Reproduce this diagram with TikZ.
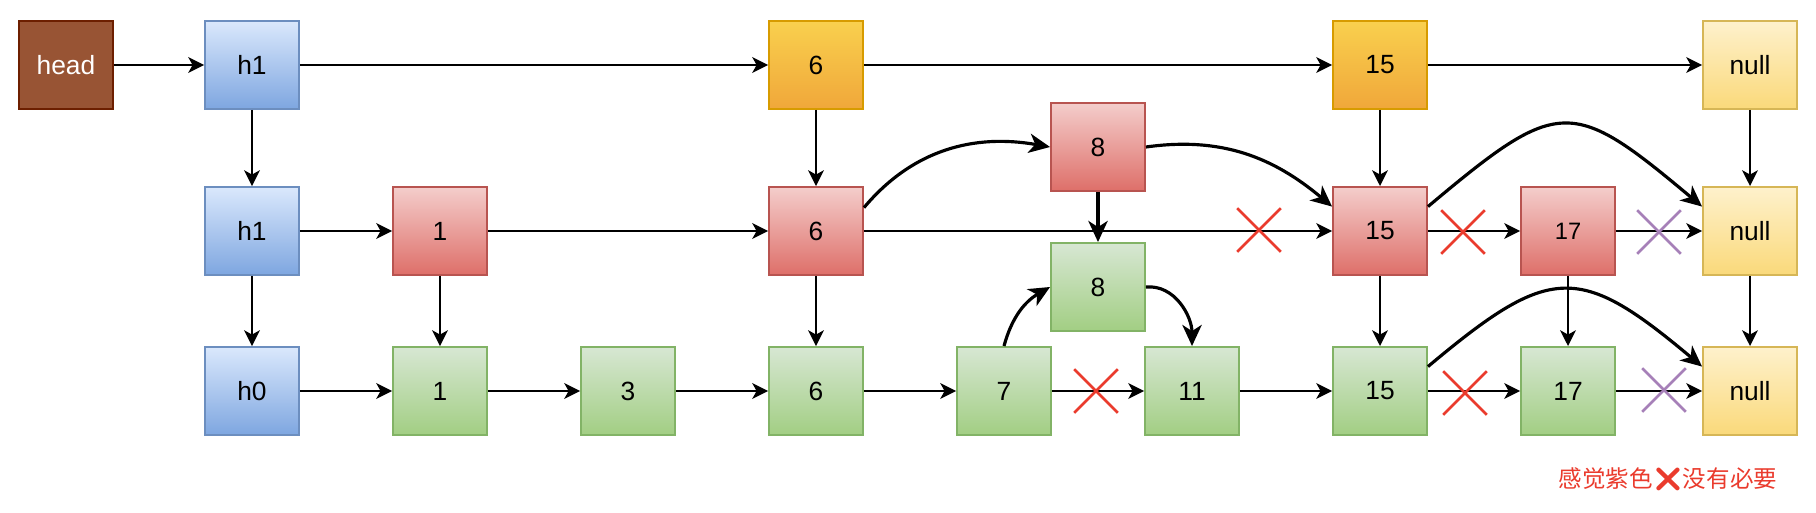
\documentclass[tikz,border=0pt]{standalone}
\usepackage{fontspec}
\setmainfont{Liberation Sans}
\newfontfamily\cjk{Noto Sans CJK SC}
\newfontfamily\emoji{Noto Emoji}
\usepackage{tikz}
\usetikzlibrary{positioning, arrows.meta, calc}
\usetikzlibrary{shapes.misc}
\definecolor{cBlueT}{HTML}{DAE8FC}
\definecolor{cBlueB}{HTML}{7EA6E0}
\definecolor{cBlueD}{HTML}{6C8EBF}
\definecolor{cRedT}{HTML}{F4CDCB}
\definecolor{cRedB}{HTML}{DE6F69}
\definecolor{cRedD}{HTML}{B85450}
\definecolor{cGrnT}{HTML}{D7E7D3}
\definecolor{cGrnB}{HTML}{A2CE83}
\definecolor{cGrnD}{HTML}{82B366}
\definecolor{cOrgT}{HTML}{F9D04E}
\definecolor{cOrgB}{HTML}{F0A73A}
\definecolor{cOrgD}{HTML}{D79B00}
\definecolor{cYelT}{HTML}{FEF1CC}
\definecolor{cYelB}{HTML}{FAD97A}
\definecolor{cYelD}{HTML}{D6B656}
\definecolor{cHead}{HTML}{985434}
\definecolor{cHeadD}{HTML}{6D1F00}
\definecolor{cCut}{HTML}{EA3B2D}
\definecolor{cPurp}{HTML}{A680B8}

\begin{document}
\begin{tikzpicture}[thick, font=\fontsize{15}{18}\selectfont,
    box/.style={rectangle, minimum width=1.88cm, minimum height=1.76cm, inner sep=0pt, line width=1.1pt},
    headbox/.style={box, fill=cHead, draw=cHeadD, text=white},
    hbox/.style={box, top color=cBlueT, bottom color=cBlueB, draw=cBlueD},
    rbox/.style={box, top color=cRedT, bottom color=cRedB, draw=cRedD},
    gbox/.style={box, top color=cGrnT, bottom color=cGrnB, draw=cGrnD},
    obox/.style={box, top color=cOrgT, bottom color=cOrgB, draw=cOrgD},
    nbox/.style={box, top color=cYelT, bottom color=cYelB, draw=cYelD},
    link/.style={-{Stealth[length=9pt, width=9pt, inset=2.5pt]}, line width=1.1pt},
    jump/.style={-{Stealth[length=12pt, width=11pt, inset=3.5pt]}, line width=1.8pt},
    cut/.style={cross out, draw=#1, minimum size=0.82cm, inner sep=0pt, line width=1.5pt}]

    \useasboundingbox (0,0) rectangle (36.32,10.24);

    % Level 2
    \node[headbox] (head) at (1.32,8.94)  {head};
    \node[hbox]    (t1)   at (5.04,8.94)  {h1};
    \node[obox]    (o6)   at (16.32,8.94) {6};
    \node[obox]    (o15)  at (27.60,8.94) {15};
    \node[nbox]    (n1)   at (35.00,8.94) {null};

    % Level 1
    \node[hbox] (m1)  at (5.04,5.62)  {h1};
    \node[rbox] (r1)  at (8.80,5.62)  {1};
    \node[rbox] (r6)  at (16.32,5.62) {6};
    \node[rbox] (r8)  at (21.96,7.30) {8};
    \node[rbox] (r15) at (27.60,5.62) {15};
    \node[rbox, font=\fontsize{13.5}{16}\selectfont] (r17) at (31.36,5.62) {17};
    \node[nbox] (n2)  at (35.00,5.62) {null};

    % Level 0
    \node[hbox] (h0)  at (5.04,2.42)  {h0};
    \node[gbox] (g1)  at (8.80,2.42)  {1};
    \node[gbox] (g3)  at (12.56,2.42) {3};
    \node[gbox] (g6)  at (16.32,2.42) {6};
    \node[gbox] (g7)  at (20.08,2.42) {7};
    \node[gbox] (g8)  at (21.96,4.50) {8};
    \node[gbox] (g11) at (23.84,2.42) {11};
    \node[gbox] (g15) at (27.60,2.42) {15};
    \node[gbox] (g17) at (31.36,2.42) {17};
    \node[nbox] (n3)  at (35.00,2.42) {null};

    % Forward pointers
    \path[link]
    (head) edge (t1)
    (t1) edge (o6)  edge (m1)
    (o6) edge (o15) edge (r6)
    (o15) edge (n1) edge (r15)
    (n1) edge (n2)
    (m1) edge (r1)  edge (h0)
    (r1) edge (r6)  edge (g1)
    (r6) edge (r15) edge (g6)
    (r15) edge (r17) edge (g15)
    (r17) edge (n2) edge (g17)
    (n2) edge (n3)
    (h0) edge (g1)
    (g1) edge (g3)
    (g3) edge (g6)
    (g6) edge (g7)
    (g7) edge (g11)
    (g11) edge (g15)
    (g15) edge (g17)
    (g17) edge (n3);

    % Insert 8, delete 15 / 17
    \path[jump]
    (r6.26) edge [out=50, in=170] (r8.west)
    (r8.east) edge [out=8, in=140] (r15.153)
    (r8) edge (g8)
    (g7.north) edge [out=75, in=210] (g8.west)
    (g8.east) edge [out=5, in=90] (g11.north)
    (r15.27) edge [out=40, in=140, looseness=1.6] (n2.153)
    (g15.27) edge [out=40, in=140, looseness=1.5] (n3.153);

    % Cut marks
    \node[cut=cCut]  (x1) at (25.18,5.64) {};
    \node[cut=cCut]  (x2) at (29.26,5.60) {};
    \node[cut=cPurp] (x3) at (33.18,5.60) {};
    \node[cut=cCut]  (x4) at (21.92,2.42) {};
    \node[cut=cCut]  (x5) at (29.30,2.38) {};
    \node[cut=cPurp] (x6) at (33.28,2.44) {};

    \node[text=cCut, font=\cjk\fontsize{13.4}{16}\selectfont] (note) at (33.36,0.66) {感觉紫色{\emoji ❌}没有必要};
\end{tikzpicture}
\end{document}
